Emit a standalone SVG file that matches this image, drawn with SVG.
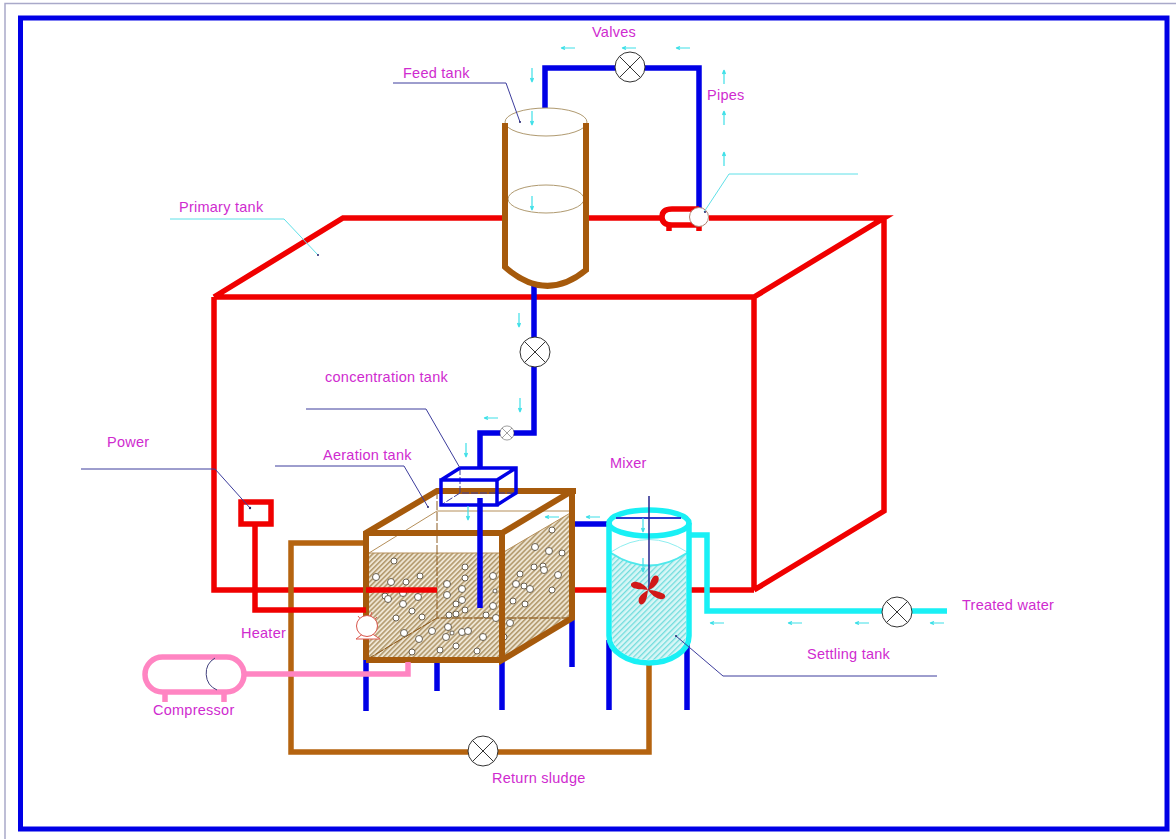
<svg xmlns="http://www.w3.org/2000/svg" width="1176" height="839" viewBox="0 0 1176 839">
<style>
text{font-family:"Liberation Sans",Arial,sans-serif;font-size:14.500px;letter-spacing:.25px;fill:#cf2bcf}
.red{fill:none;stroke:#f00000;stroke-width:5.500}
.blue{fill:none;stroke:#0000e6;stroke-width:5.500}
.brown{fill:none;stroke:#a65a0c;stroke-width:6}
.ret{fill:none;stroke:#b56410;stroke-width:5.500}
.cyan{fill:none;stroke:#19f0f5;stroke-width:5.500}
.pink{fill:none;stroke:#ff85c2;stroke-width:5.500}
.lead{fill:none;stroke:#3c3c9c;stroke-width:1}
.leadc{fill:none;stroke:#5fe0e8;stroke-width:1}
.thin{fill:none;stroke:#b58f5a;stroke-width:1}
.dash{fill:none;stroke:#8a5a20;stroke-width:1;stroke-dasharray:9 2}
.flow{fill:none;stroke:#3fe0e8;stroke-width:1.200}
.dot{fill:#23236e}
.bub{fill:#fff;stroke:#5a5040;stroke-width:.9}
.valve circle{fill:#fff;stroke:#333;stroke-width:1}
.valve path{fill:none;stroke:#333;stroke-width:1}
</style>
<defs>
<pattern id="hatchTan" width="3.500" height="3.500" patternUnits="userSpaceOnUse" patternTransform="rotate(-45)">
<rect width="3.500" height="3.500" fill="#efe6d4"/><rect width="3.500" height="1.600" fill="#b39a6e"/>
</pattern>
<pattern id="hatchCyan" width="4" height="4" patternUnits="userSpaceOnUse" patternTransform="rotate(-45)">
<rect width="4" height="4" fill="#d8f6f6"/><rect width="4" height="1.300" fill="#6fdcdc"/>
</pattern>
<path id="fh" class="flow" d="M-7 0H7M-7 0l4-1.500M-7 0l4 1.500"/>
<path id="fd" class="flow" d="M0-7V7M0 7l-1.500-4M0 7l1.500-4"/>
<path id="fu" class="flow" d="M0-7V7M0-7l-1.500 4M0-7l1.500 4"/>
<g id="valve" class="valve"><circle r="15"/><path d="M-10.600-10.600L10.600 10.600M-10.600 10.600L10.600-10.600"/></g>
</defs>
<rect width="1176" height="839" fill="#fff"/>
<path d="M5 839V3.500H1176" fill="none" stroke="#a9a9c9" stroke-width="1.500"/>
<rect id="frame" x="20.500" y="18" width="1146.500" height="811" fill="none" stroke="#0000e6" stroke-width="5"/>
<g id="connectors">
<path class="red" d="M214 297H754M214 297L343 218H505M586 218H660M709 218H884L754 297M754 297V590M884 218V511L754 590M214 297V590H437M575 590H609M690 590H754"/>
<path class="ret" d="M366 543H291V752H649V664"/>
<path class="blue" d="M545 108V68H699V208"/>
<path class="blue" d="M534 285V433H480V468"/>
<path class="blue" d="M572 524H609"/>
<path class="cyan" d="M690 535H707V611H947"/>
<path class="blue" d="M366 660V711M437 660V691M502 660V710M572 618V667M609 640V710M687 640V710"/>
</g>
<g id="primary-tank-label"><text x="179" y="212">Primary tank</text><path class="leadc" d="M170 219H284L318 255"/><circle class="dot" cx="318" cy="255" r="1"/></g>
<g id="aeration-tank">
<path d="M369 553H502V660H369Z" fill="url(#hatchTan)"/>
<path d="M502 553L572 512V618L502 660Z" fill="url(#hatchTan)"/>
<path class="thin" d="M437 511H572M369 553L437 511M369 553H502M502 553L572 512M437 618H572M366 660L437 618"/>
<path class="dash" d="M437 490V618H572M366 660L437 618"/>
<g id="bubbles">
<circle class="bub" cx="394" cy="561" r="3"/><circle class="bub" cx="376" cy="577" r="3.500"/><circle class="bub" cx="391" cy="582" r="3.500"/><circle class="bub" cx="406" cy="582" r="3"/><circle class="bub" cx="420" cy="576" r="3"/><circle class="bub" cx="403" cy="593" r="3.500"/><circle class="bub" cx="385" cy="596" r="3"/><circle class="bub" cx="388" cy="599" r="3.500"/><circle class="bub" cx="418" cy="597" r="3.500"/><circle class="bub" cx="403" cy="604" r="3.500"/><circle class="bub" cx="412" cy="611" r="3"/><circle class="bub" cx="396" cy="618" r="3"/><circle class="bub" cx="422" cy="617" r="3"/><circle class="bub" cx="404" cy="633" r="3.500"/><circle class="bub" cx="419" cy="639" r="3.500"/><circle class="bub" cx="432" cy="631" r="3.500"/><circle class="bub" cx="412" cy="652" r="3"/><circle class="bub" cx="440" cy="650" r="3"/><circle class="bub" cx="456" cy="646" r="3"/><circle class="bub" cx="477" cy="651" r="3"/><circle class="bub" cx="446" cy="637" r="3.500"/><circle class="bub" cx="452" cy="633" r="2"/><circle class="bub" cx="462" cy="632" r="3.500"/><circle class="bub" cx="468" cy="631" r="3.500"/><circle class="bub" cx="483" cy="637" r="3.500"/><circle class="bub" cx="448" cy="627" r="3.500"/><circle class="bub" cx="449" cy="615" r="3"/><circle class="bub" cx="456" cy="614" r="3"/><circle class="bub" cx="465" cy="610" r="3"/><circle class="bub" cx="456" cy="604" r="3"/><circle class="bub" cx="462" cy="600" r="3.500"/><circle class="bub" cx="447" cy="595" r="3.500"/><circle class="bub" cx="447" cy="584" r="3.500"/><circle class="bub" cx="462" cy="589" r="3.500"/><circle class="bub" cx="465" cy="578" r="3"/><circle class="bub" cx="465" cy="567" r="3"/><circle class="bub" cx="493" cy="576" r="3.500"/><circle class="bub" cx="495" cy="591" r="2"/><circle class="bub" cx="493" cy="606" r="3.500"/><circle class="bub" cx="486" cy="615" r="3"/><circle class="bub" cx="496" cy="618" r="3.500"/><circle class="bub" cx="510" cy="623" r="3.500"/><circle class="bub" cx="504" cy="637" r="3"/><circle class="bub" cx="513" cy="601" r="3"/><circle class="bub" cx="525" cy="604" r="3"/><circle class="bub" cx="516" cy="584" r="3.500"/><circle class="bub" cx="524" cy="586" r="3"/><circle class="bub" cx="530" cy="589" r="3.500"/><circle class="bub" cx="552" cy="590" r="3"/><circle class="bub" cx="520" cy="574" r="3"/><circle class="bub" cx="534" cy="567" r="3"/><circle class="bub" cx="543" cy="566" r="3"/><circle class="bub" cx="544" cy="570" r="3.500"/><circle class="bub" cx="558" cy="575" r="3.500"/><circle class="bub" cx="535" cy="547" r="3.500"/><circle class="bub" cx="549" cy="551" r="3.500"/><circle class="bub" cx="562" cy="553" r="3"/><circle class="bub" cx="552" cy="530" r="3"/>
</g>
<path class="red" d="M369 590H437"/>
<path class="brown" d="M366 660V533L437 491H576M366 533H502L572 491M502 533V660L572 618V491M366 660H502"/>
<path class="red" d="M366 590H372"/>
<text x="323" y="460">Aeration tank</text>
<path class="lead" d="M275 466H404L428 507"/><circle class="dot" cx="428" cy="507" r="1"/>
</g>
<g id="heater-lines">
<path class="red" d="M255 526V610H366"/>
</g>
<g id="power">
<rect x="241" y="502" width="30" height="22" fill="#fff" stroke="#f00000" stroke-width="5.500"/>
<path class="lead" d="M81 469H215L250 508"/><circle class="dot" cx="250" cy="508" r="1.200"/>
<text x="107" y="447">Power</text>
</g>
<g id="heater">
<path d="M356 639L364 633H371L380 639Z M358 616L363 622M377 617L372 622M372 612L369 620" fill="#fff" stroke="#dc5a50" stroke-width="1"/>
<circle cx="367" cy="626" r="10.500" fill="#fff" stroke="#d8564c" stroke-width="1"/>
<text x="241" y="638">Heater</text>
</g>
<g id="compressor">
<path class="pink" d="M408 662V674H245"/>
<rect x="145" y="657" width="99" height="35" rx="17.500" fill="#fff" stroke="#ff85c2" stroke-width="5.500"/>
<path class="pink" d="M165 692V702M224 692V702"/>
<path d="M215 658A18 18 0 0 0 217 690" fill="none" stroke="#40407c" stroke-width="1"/>
<text x="153" y="715">Compressor</text>
</g>
<g id="concentration-tank">
<path class="lead" stroke-dasharray="7 2" d="M460 468V493H516M460 493L441 505"/>
<path class="blue" style="stroke-width:3.500" d="M441 480H497V505H441ZM441 480L460 468H516V493L497 505M497 480L516 468"/>
<path class="blue" d="M480 498V608"/>
<text x="325" y="382">concentration tank</text>
<path class="lead" d="M306 409H426L460 468"/>
</g>
<g id="feed-tank">
<path d="M505 123V267Q546 303 586 270V123Z" fill="#fff"/>
<ellipse cx="546" cy="122" rx="41" ry="14" fill="#fff" stroke="#b09a70" stroke-width="1"/>
<ellipse cx="546" cy="199" rx="38" ry="14" fill="none" stroke="#b09a70" stroke-width="1"/>
<path class="brown" d="M505 123V267Q546 303 586 270V123"/>
<path class="lead" d="M393 83H506L520 122"/><circle class="dot" cx="520" cy="122" r="1"/>
<text x="403" y="78">Feed tank</text>
</g>
<g id="pump-top">
<path class="red" d="M699 209H672Q662 209 662 217Q662 225 672 225H699M669 225V231M699 225V231"/>
<circle cx="699" cy="217" r="9.500" fill="#fff" stroke="#b08070" stroke-width="1"/>
<path class="leadc" d="M858 174H729L704 212"/><circle class="dot" cx="705" cy="212" r="1"/>
</g>
<g id="settling-tank">
<path d="M609 523V636A40 27 0 0 0 689 636V523Z" fill="#fff"/>
<path d="M612 553Q649 578 686 553V636A37 24 0 0 1 612 636Z" fill="url(#hatchCyan)"/>
<path d="M611 552Q649 527 687 552" fill="none" stroke="#8eeef0" stroke-width="1"/>
<path d="M611 553Q649 578 687 553" fill="none" stroke="#4fe8ec" stroke-width="2"/>
<path class="cyan" d="M609 523V636A40 27 0 0 0 689 636V523"/>
<ellipse cx="649" cy="523" rx="40" ry="13" fill="none" stroke="#19f0f5" stroke-width="5.500"/>
<path d="M616 518H681" fill="none" stroke="#2a3ad0" stroke-width="2"/>
<path d="M649 496V590" fill="none" stroke="#23238c" stroke-width="1.500"/>
<path id="impeller" fill="#d01818" d="M648 590C643 589 636 590 632 587C629 584 633 581 637 582C642 583 646 586 648 590ZM648 590C650 585 650 580 654 576C658 574 660 578 658 582C656 586 652 589 648 590ZM648 590C654 590 660 592 664 594C667 597 664 600 660 599C655 598 651 594 648 590ZM648 590C647 596 647 601 643 604C639 606 638 601 639 598C641 594 645 592 648 590Z"/>
<path class="lead" d="M937 676H723L676 636"/><circle class="dot" cx="676" cy="636" r="1"/>
<text x="807" y="659">Settling tank</text>
<text x="610" y="468">Mixer</text>
</g>
<use href="#valve" x="630" y="67"/>
<use href="#valve" x="535" y="352"/>
<g transform="translate(507 433) scale(.47)"><use href="#valve"/></g>
<use href="#valve" x="897" y="612"/>
<use href="#valve" x="483" y="751"/>
<g id="flows">
<use href="#fh" x="568" y="48"/><use href="#fh" x="629" y="48"/><use href="#fh" x="683" y="48"/>
<use href="#fd" x="532" y="75"/><use href="#fd" x="532" y="118"/><use href="#fd" x="532" y="203"/>
<use href="#fu" x="724" y="77"/><use href="#fu" x="724" y="118"/><use href="#fu" x="724" y="159"/>
<use href="#fd" x="519" y="320"/><use href="#fd" x="520" y="405"/><use href="#fh" x="491" y="418"/>
<use href="#fd" x="466" y="450"/><use href="#fd" x="468" y="513"/>
<use href="#fh" x="552" y="517"/><use href="#fh" x="593" y="517"/>
<use href="#fd" x="643" y="525"/><use href="#fd" x="643" y="565"/>
<use href="#fh" x="717" y="623"/><use href="#fh" x="795" y="623"/><use href="#fh" x="862" y="623"/><use href="#fh" x="937" y="623"/>
</g>
<g id="labels">
<text x="592" y="37">Valves</text>
<text x="707" y="100">Pipes</text>
<text x="492" y="783">Return sludge</text>
<text x="962" y="610">Treated water</text>
</g>
</svg>
